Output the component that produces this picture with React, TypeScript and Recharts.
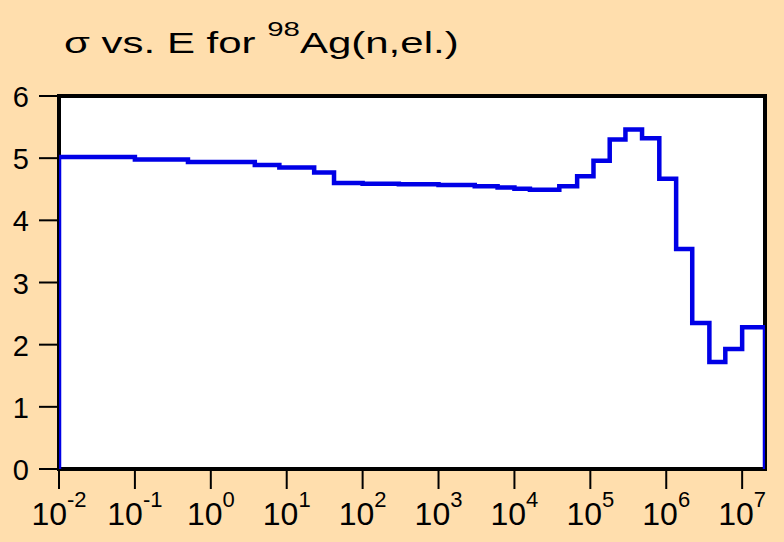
import { LineChart, Line, XAxis, YAxis, CartesianGrid, ReferenceArea } from "recharts";

// step boundaries (eV) and cross section (b) holding from each boundary to the next
const energies = [
  0.01, 0.01, 0.1, 0.5, 3.8, 8, 23, 42, 100, 300, 1000, 3000, 6000, 1e4, 1.6e4,
  3.9e4, 6.7e4, 1.1e5, 1.8e5, 2.9e5, 4.8e5, 8.1e5, 1.35e6, 2.2e6, 3.7e6, 6e6, 1e7, 2e7,
];
const sigmas = [
  0, 5.02, 4.98, 4.94, 4.89, 4.85, 4.77, 4.6, 4.59, 4.58, 4.57, 4.55, 4.53, 4.51, 4.49,
  4.55, 4.71, 4.96, 5.3, 5.46, 5.32, 4.67, 3.54, 2.35, 1.72, 1.93, 2.28, 0,
];
const xTicks = [1e-2, 1e-1, 1, 10, 100, 1e3, 1e4, 1e5, 1e6, 1e7];
const yTicks = [0, 1, 2, 3, 4, 5, 6];

const data = energies.map((e, i) => ({ e, s: sigmas[i] }));

const FONT = "'Liberation Sans', Arial, sans-serif";

const XTick = ({ x, y, payload }: any) => {
  const exp = Math.round(Math.log10(payload.value));
  return (
    <text x={x} y={y + 34} textAnchor="middle" fontFamily={FONT} fontSize={32} fill="#000">
      <tspan>10</tspan>
      <tspan dy={-18} fontSize={22}>{exp}</tspan>
    </text>
  );
};

const YTick = ({ x, y, payload }: any) => (
  <text x={x} y={y + 11} textAnchor="end" fontFamily={FONT} fontSize={29} fill="#000">
    {payload.value}
  </text>
);

export default function App() {
  return (
    <div style={{ position: "absolute", left: 0, top: 0, width: 784, height: 542, background: "#FFDEAD" }}>
      <svg width={784} height={80} style={{ position: "absolute", left: 0, top: 0 }}>
        <g transform="translate(64,53) scale(1.4,1)">
          <text x={0} y={0} fontFamily={FONT} fontSize={30} fill="#000">
            σ vs. E for <tspan dy={-17} fontSize={21}>98</tspan>
            <tspan dy={17}>Ag(n,el.)</tspan>
          </text>
        </g>
      </svg>
      <LineChart width={784} height={542} data={data} margin={{ top: 96, right: 19, bottom: 0, left: 0 }}>
        <CartesianGrid horizontal={false} vertical={false} fill="#fff" />
        <XAxis
          dataKey="e"
          type="number"
          scale="log"
          domain={[0.01, 2e7]}
          ticks={xTicks}
          allowDataOverflow
          height={73}
          axisLine={{ stroke: "#000", strokeWidth: 4 }}
          tickLine={{ stroke: "#000", strokeWidth: 2 }}
          tickSize={20}
          tick={<XTick />}
          interval={0}
        />
        <XAxis
          xAxisId="top"
          orientation="top"
          dataKey="e"
          type="number"
          scale="log"
          domain={[0.01, 2e7]}
          ticks={xTicks}
          allowDataOverflow
          height={0}
          axisLine={{ stroke: "#000", strokeWidth: 4 }}
          tickLine={{ stroke: "#000", strokeWidth: 2 }}
          tickSize={20}
          tick={false}
          interval={0}
        />
        <YAxis
          type="number"
          domain={[0, 6]}
          ticks={yTicks}
          width={59}
          axisLine={{ stroke: "#000", strokeWidth: 4 }}
          tickLine={{ stroke: "#000", strokeWidth: 2 }}
          tickSize={20}
          tickMargin={10}
          tick={<YTick />}
          interval={0}
        />
        <YAxis
          yAxisId="right"
          orientation="right"
          type="number"
          domain={[0, 6]}
          ticks={yTicks}
          width={0}
          axisLine={{ stroke: "#000", strokeWidth: 4 }}
          tickLine={{ stroke: "#000", strokeWidth: 2 }}
          tickSize={20}
          tick={false}
          interval={0}
        />
        <ReferenceArea
          x1={0.01}
          x2={2e7}
          y1={0}
          y2={6}
          fill="none"
          fillOpacity={0}
          stroke="#000"
          strokeWidth={4}
        />
        <Line
          type="stepAfter"
          dataKey="s"
          stroke="#0000E6"
          strokeWidth={4.5}
          dot={false}
          isAnimationActive={false}
          zIndex={1000}
        />
      </LineChart>
    </div>
  );
}
